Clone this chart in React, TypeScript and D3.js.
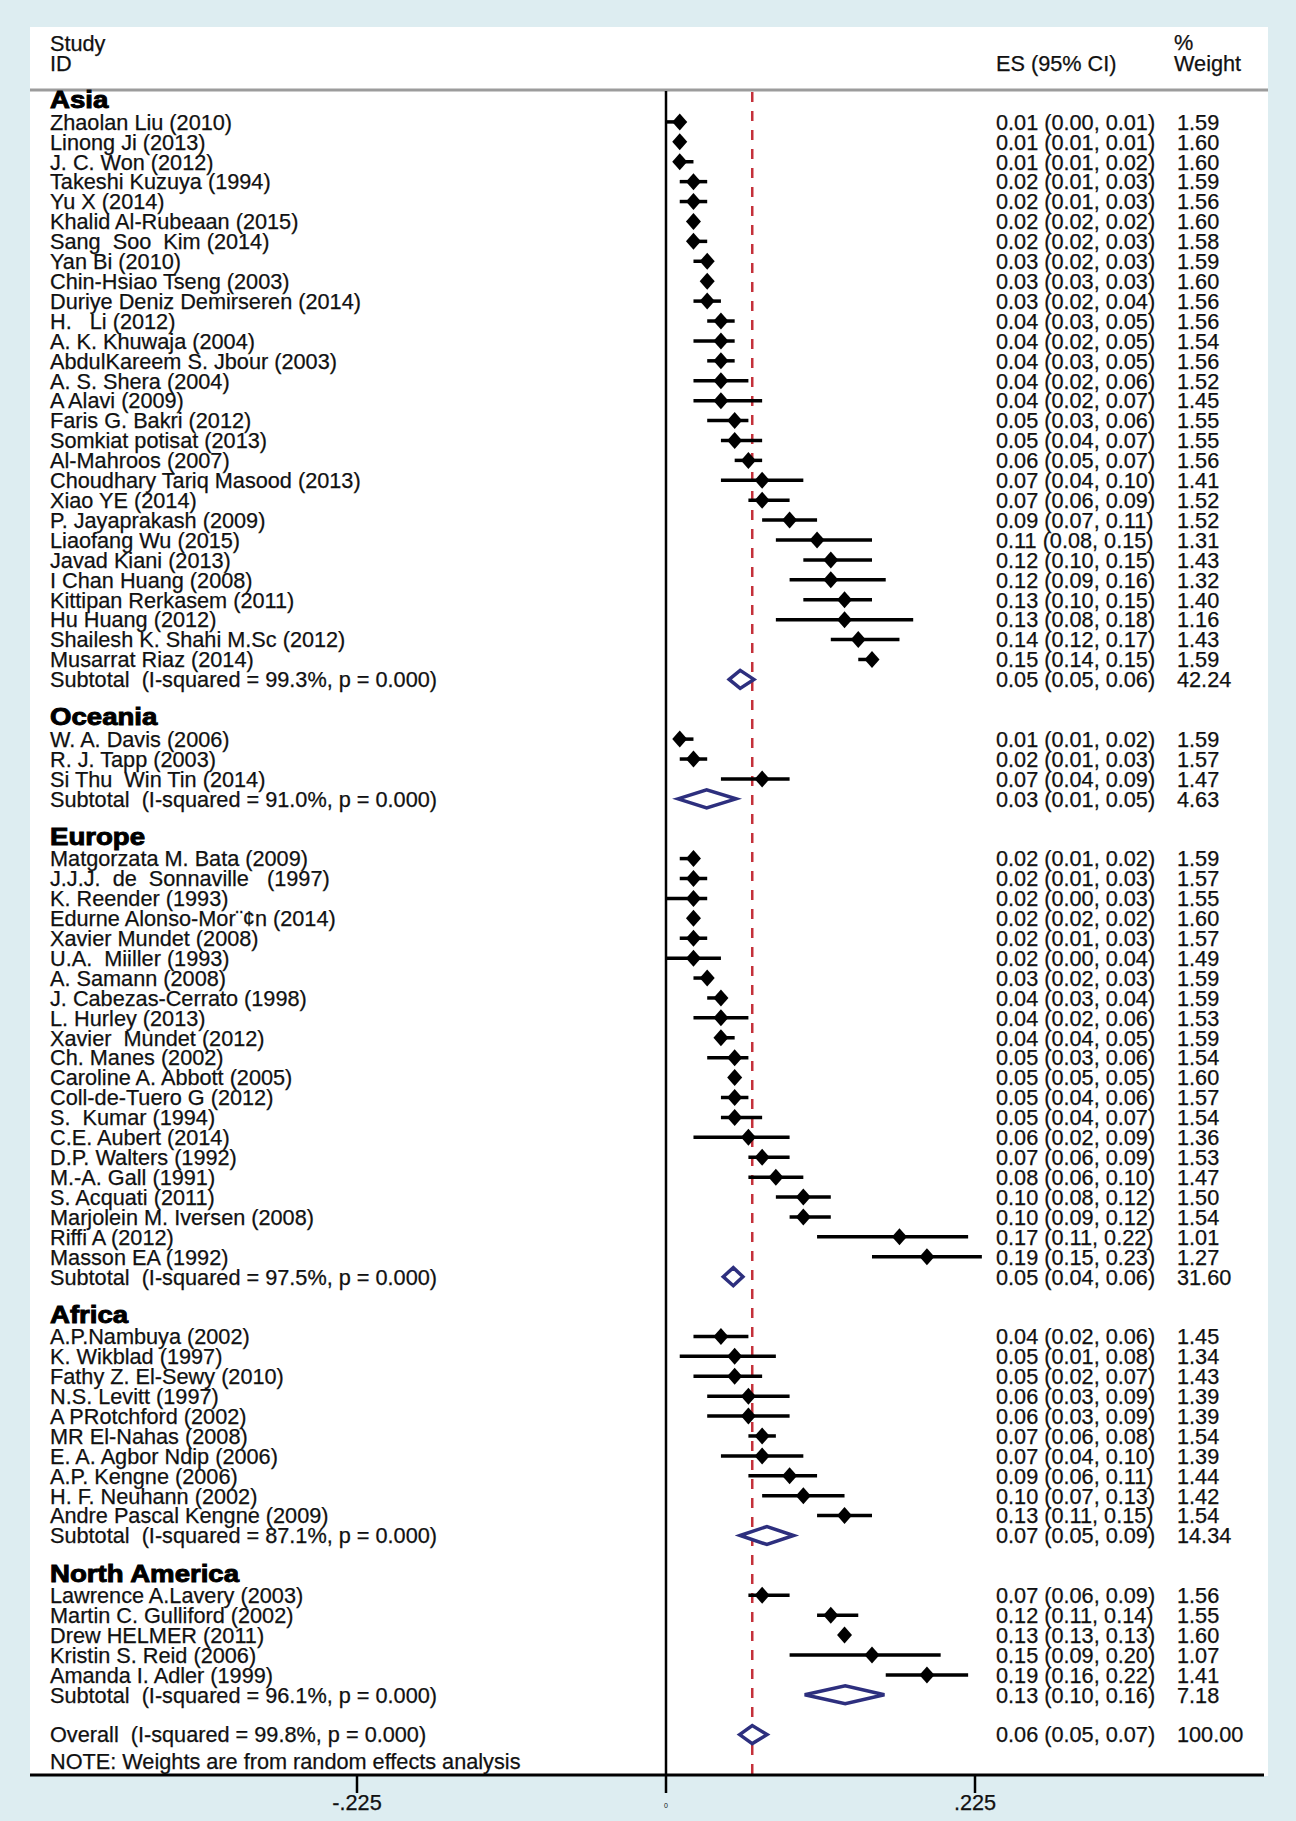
import * as d3 from "d3"

// [study, ES, lower, upper, % weight]
type Study = [string, number, number, number, number]

const groupNames = ["Asia", "Oceania", "Europe", "Africa", "North America"]

const asia: Study[] = [
  ["Zhaolan Liu (2010)", 0.01, 0.0, 0.01, 1.59],
  ["Linong Ji (2013)", 0.01, 0.01, 0.01, 1.6],
  ["J. C. Won (2012)", 0.01, 0.01, 0.02, 1.6],
  ["Takeshi Kuzuya (1994)", 0.02, 0.01, 0.03, 1.59],
  ["Yu X (2014)", 0.02, 0.01, 0.03, 1.56],
  ["Khalid Al-Rubeaan (2015)", 0.02, 0.02, 0.02, 1.6],
  ["Sang  Soo  Kim (2014)", 0.02, 0.02, 0.03, 1.58],
  ["Yan Bi (2010)", 0.03, 0.02, 0.03, 1.59],
  ["Chin-Hsiao Tseng (2003)", 0.03, 0.03, 0.03, 1.6],
  ["Duriye Deniz Demirseren (2014)", 0.03, 0.02, 0.04, 1.56],
  ["H.   Li (2012)", 0.04, 0.03, 0.05, 1.56],
  ["A. K. Khuwaja (2004)", 0.04, 0.02, 0.05, 1.54],
  ["AbdulKareem S. Jbour (2003)", 0.04, 0.03, 0.05, 1.56],
  ["A. S. Shera (2004)", 0.04, 0.02, 0.06, 1.52],
  ["A Alavi (2009)", 0.04, 0.02, 0.07, 1.45],
  ["Faris G. Bakri (2012)", 0.05, 0.03, 0.06, 1.55],
  ["Somkiat potisat (2013)", 0.05, 0.04, 0.07, 1.55],
  ["Al-Mahroos (2007)", 0.06, 0.05, 0.07, 1.56],
  ["Choudhary Tariq Masood (2013)", 0.07, 0.04, 0.1, 1.41],
  ["Xiao YE (2014)", 0.07, 0.06, 0.09, 1.52],
  ["P. Jayaprakash (2009)", 0.09, 0.07, 0.11, 1.52],
  ["Liaofang Wu (2015)", 0.11, 0.08, 0.15, 1.31],
  ["Javad Kiani (2013)", 0.12, 0.1, 0.15, 1.43],
  ["I Chan Huang (2008)", 0.12, 0.09, 0.16, 1.32],
  ["Kittipan Rerkasem (2011)", 0.13, 0.1, 0.15, 1.4],
  ["Hu Huang (2012)", 0.13, 0.08, 0.18, 1.16],
  ["Shailesh K. Shahi M.Sc (2012)", 0.14, 0.12, 0.17, 1.43],
  ["Musarrat Riaz (2014)", 0.15, 0.14, 0.15, 1.59],
]

const oceania: Study[] = [
  ["W. A. Davis (2006)", 0.01, 0.01, 0.02, 1.59],
  ["R. J. Tapp (2003)", 0.02, 0.01, 0.03, 1.57],
  ["Si Thu  Win Tin (2014)", 0.07, 0.04, 0.09, 1.47],
]

const europe: Study[] = [
  ["Matgorzata M. Bata (2009)", 0.02, 0.01, 0.02, 1.59],
  ["J.J.J.  de  Sonnaville   (1997)", 0.02, 0.01, 0.03, 1.57],
  ["K. Reender (1993)", 0.02, 0.0, 0.03, 1.55],
  ["Edurne Alonso-Mor¨¢n (2014)", 0.02, 0.02, 0.02, 1.6],
  ["Xavier Mundet (2008)", 0.02, 0.01, 0.03, 1.57],
  ["U.A.  Miiller (1993)", 0.02, 0.0, 0.04, 1.49],
  ["A. Samann (2008)", 0.03, 0.02, 0.03, 1.59],
  ["J. Cabezas-Cerrato (1998)", 0.04, 0.03, 0.04, 1.59],
  ["L. Hurley (2013)", 0.04, 0.02, 0.06, 1.53],
  ["Xavier  Mundet (2012)", 0.04, 0.04, 0.05, 1.59],
  ["Ch. Manes (2002)", 0.05, 0.03, 0.06, 1.54],
  ["Caroline A. Abbott (2005)", 0.05, 0.05, 0.05, 1.6],
  ["Coll-de-Tuero G (2012)", 0.05, 0.04, 0.06, 1.57],
  ["S.  Kumar (1994)", 0.05, 0.04, 0.07, 1.54],
  ["C.E. Aubert (2014)", 0.06, 0.02, 0.09, 1.36],
  ["D.P. Walters (1992)", 0.07, 0.06, 0.09, 1.53],
  ["M.-A. Gall (1991)", 0.08, 0.06, 0.1, 1.47],
  ["S. Acquati (2011)", 0.1, 0.08, 0.12, 1.5],
  ["Marjolein M. Iversen (2008)", 0.1, 0.09, 0.12, 1.54],
  ["Riffi A (2012)", 0.17, 0.11, 0.22, 1.01],
  ["Masson EA (1992)", 0.19, 0.15, 0.23, 1.27],
]

const africa: Study[] = [
  ["A.P.Nambuya (2002)", 0.04, 0.02, 0.06, 1.45],
  ["K. Wikblad (1997)", 0.05, 0.01, 0.08, 1.34],
  ["Fathy Z. El-Sewy (2010)", 0.05, 0.02, 0.07, 1.43],
  ["N.S. Levitt (1997)", 0.06, 0.03, 0.09, 1.39],
  ["A PRotchford (2002)", 0.06, 0.03, 0.09, 1.39],
  ["MR El-Nahas (2008)", 0.07, 0.06, 0.08, 1.54],
  ["E. A. Agbor Ndip (2006)", 0.07, 0.04, 0.1, 1.39],
  ["A.P. Kengne (2006)", 0.09, 0.06, 0.11, 1.44],
  ["H. F. Neuhann (2002)", 0.1, 0.07, 0.13, 1.42],
  ["Andre Pascal Kengne (2009)", 0.13, 0.11, 0.15, 1.54],
]

const northAmerica: Study[] = [
  ["Lawrence A.Lavery (2003)", 0.07, 0.06, 0.09, 1.56],
  ["Martin C. Gulliford (2002)", 0.12, 0.11, 0.14, 1.55],
  ["Drew HELMER (2011)", 0.13, 0.13, 0.13, 1.6],
  ["Kristin S. Reid (2006)", 0.15, 0.09, 0.2, 1.07],
  ["Amanda I. Adler (1999)", 0.19, 0.16, 0.22, 1.41],
]

// [I-squared, ES, lower, upper, % weight]
const subtotals: [string, number, number, number, number][] = [
  ["99.3%", 0.054, 0.046, 0.064, 42.24],
  ["91.0%", 0.0296, 0.0087, 0.051, 4.63],
  ["97.5%", 0.049, 0.0417, 0.056, 31.6],
  ["87.1%", 0.0735, 0.054, 0.093, 14.34],
  ["96.1%", 0.1305, 0.101, 0.159, 7.18],
]

const overall = { isq: "99.8%", es: 0.0628, lo: 0.0536, hi: 0.0736, weight: 100 }

const xTicks = [-0.225, 0, 0.225]
const xTickLabels = ["-.225", "0", ".225"]

const FONT = "'Liberation Sans', Arial, Helvetica, sans-serif"
const NAVY = "#2d2f7e"
const RED = "#c4303a"
const INK = "#111"

export default function App() {
  const width = 1296
  const height = 1821
  const panel = { left: 30, right: 1268, top: 27, bottom: 1776 }

  const x = d3.scaleLinear().domain([-0.225, 0.225]).range([357, 975])
  const y = d3.scaleLinear().domain([0, 1]).range([102, 121.91])

  const fmt = (v: number) => v.toFixed(2)
  const ciText = (es: number, lo: number, hi: number) => `${fmt(es)} (${fmt(lo)}, ${fmt(hi)})`

  const line = d3.line<[number, number]>()
  const diamond = (cx0: number, cx: number, cx1: number, cy: number, h: number) =>
    line([
      [cx0, cy],
      [cx, cy - h],
      [cx1, cy],
      [cx, cy + h],
      [cx0, cy],
    ]) + "Z"

  const studyGroups = [asia, oceania, europe, africa, northAmerica]

  // layout rows: header, studies, subtotal, blank
  type Row =
    | { kind: "header"; r: number; label: string }
    | { kind: "study"; r: number; s: Study }
    | { kind: "sub"; r: number; s: [string, number, number, number, number] }
  const rows: Row[] = []
  let r = 0
  studyGroups.forEach((studies, gi) => {
    rows.push({ kind: "header", r, label: groupNames[gi] })
    r++
    studies.forEach((s) => {
      rows.push({ kind: "study", r, s })
      r++
    })
    rows.push({ kind: "sub", r, s: subtotals[gi] })
    r += 2
  })
  const overallRow = r

  const esX = 996
  const wX = 1177
  const labelX = 50
  const fs = 21.7
  const axisY = 1775

  const txt = { fontSize: fs, fill: INK, stroke: INK, strokeWidth: 0.25 }

  return (
    <svg
      width={width}
      height={height}
      style={{ position: "absolute", left: 0, top: 0, fontFamily: FONT }}
    >
      <rect x={0} y={0} width={width} height={height} fill="#ddedf1" />
      <rect
        x={panel.left}
        y={panel.top}
        width={panel.right - panel.left}
        height={panel.bottom - panel.top}
        fill="#ffffff"
      />

      {/* column headers */}
      <g {...txt}>
        <text x={labelX} y={43} dy="0.36em">Study</text>
        <text x={labelX} y={63} dy="0.36em">ID</text>
        <text x={esX} y={63} dy="0.36em">ES (95% CI)</text>
        <text x={wX - 3} y={42} dy="0.36em">%</text>
        <text x={wX - 3} y={63} dy="0.36em">Weight</text>
      </g>
      <line x1={panel.left} x2={panel.right} y1={90} y2={90} stroke="#9c9c9c" strokeWidth={3} />

      {/* reference lines */}
      <line x1={x(0)} x2={x(0)} y1={91} y2={1793} stroke="#000" strokeWidth={2.5} />
      <line
        x1={x(overall.es)}
        x2={x(overall.es)}
        y1={92}
        y2={axisY}
        stroke={RED}
        strokeWidth={2.5}
        strokeDasharray="10 9"
      />

      {/* rows */}
      {rows.map((row, i) => {
        const cy = y(row.r)
        if (row.kind === "header") {
          return (
            <text
              key={i}
              transform={`translate(${labelX},${cy - 2}) scale(1.2,1)`}
              dy="0.36em"
              fontSize={23}
              fontWeight="bold"
              stroke="#000"
              strokeWidth={0.9}
              fill="#000"
            >
              {row.label}
            </text>
          )
        }
        if (row.kind === "study") {
          const [name, es, lo, hi, w] = row.s
          return (
            <g key={i}>
              <text x={labelX} y={cy} dy="0.36em" {...txt} style={{ whiteSpace: "pre" }}>
                {name}
              </text>
              <line x1={x(lo)} x2={x(hi)} y1={cy} y2={cy} stroke="#000" strokeWidth={3.5} />
              <path d={diamond(x(es) - 7.5, x(es), x(es) + 7.5, cy, 8.5)} fill="#000" />
              <text x={esX} y={cy} dy="0.36em" {...txt}>
                {ciText(es, lo, hi)}
              </text>
              <text x={wX} y={cy} dy="0.36em" {...txt}>
                {fmt(w)}
              </text>
            </g>
          )
        }
        const [isq, es, lo, hi, w] = row.s
        return (
          <g key={i}>
            <text x={labelX} y={cy} dy="0.36em" {...txt} style={{ whiteSpace: "pre" }}>
              {`Subtotal  (I-squared = ${isq}, p = 0.000)`}
            </text>
            <path d={diamond(x(lo), x(es), x(hi), cy, 9)} fill="#fff" stroke={NAVY} strokeWidth={3.5} />
            <text x={esX} y={cy} dy="0.36em" {...txt}>
              {ciText(es, lo, hi)}
            </text>
            <text x={wX} y={cy} dy="0.36em" {...txt}>
              {fmt(w)}
            </text>
          </g>
        )
      })}

      {/* overall */}
      <g>
        <text x={labelX} y={y(overallRow)} dy="0.36em" {...txt} style={{ whiteSpace: "pre" }}>
          {`Overall  (I-squared = ${overall.isq}, p = 0.000)`}
        </text>
        <path
          d={diamond(x(overall.lo), x(overall.es), x(overall.hi), y(overallRow), 9)}
          fill="#fff"
          stroke={NAVY}
          strokeWidth={3.5}
        />
        <text x={esX} y={y(overallRow)} dy="0.36em" {...txt}>
          {ciText(overall.es, overall.lo, overall.hi)}
        </text>
        <text x={wX} y={y(overallRow)} dy="0.36em" {...txt}>
          {fmt(overall.weight)}
        </text>
        <text x={labelX} y={y(overallRow) + 27} dy="0.36em" {...txt}>
          NOTE: Weights are from random effects analysis
        </text>
      </g>

      {/* x axis */}
      <line x1={panel.left} x2={panel.right - 4} y1={axisY} y2={axisY} stroke="#000" strokeWidth={3} />
      {xTicks.map((t, i) => (
        <g key={t}>
          {t !== 0 && <line x1={x(t)} x2={x(t)} y1={axisY} y2={1793} stroke="#000" strokeWidth={2.5} />}
          <text
            x={x(t)}
            y={t === 0 ? 1805 : 1802}
            dy="0.36em"
            textAnchor="middle"
            fontSize={t === 0 ? 7 : fs}
            fill={INK}
            stroke={INK}
            strokeWidth={t === 0 ? 0 : 0.25}
          >
            {xTickLabels[i]}
          </text>
        </g>
      ))}
    </svg>
  )
}
